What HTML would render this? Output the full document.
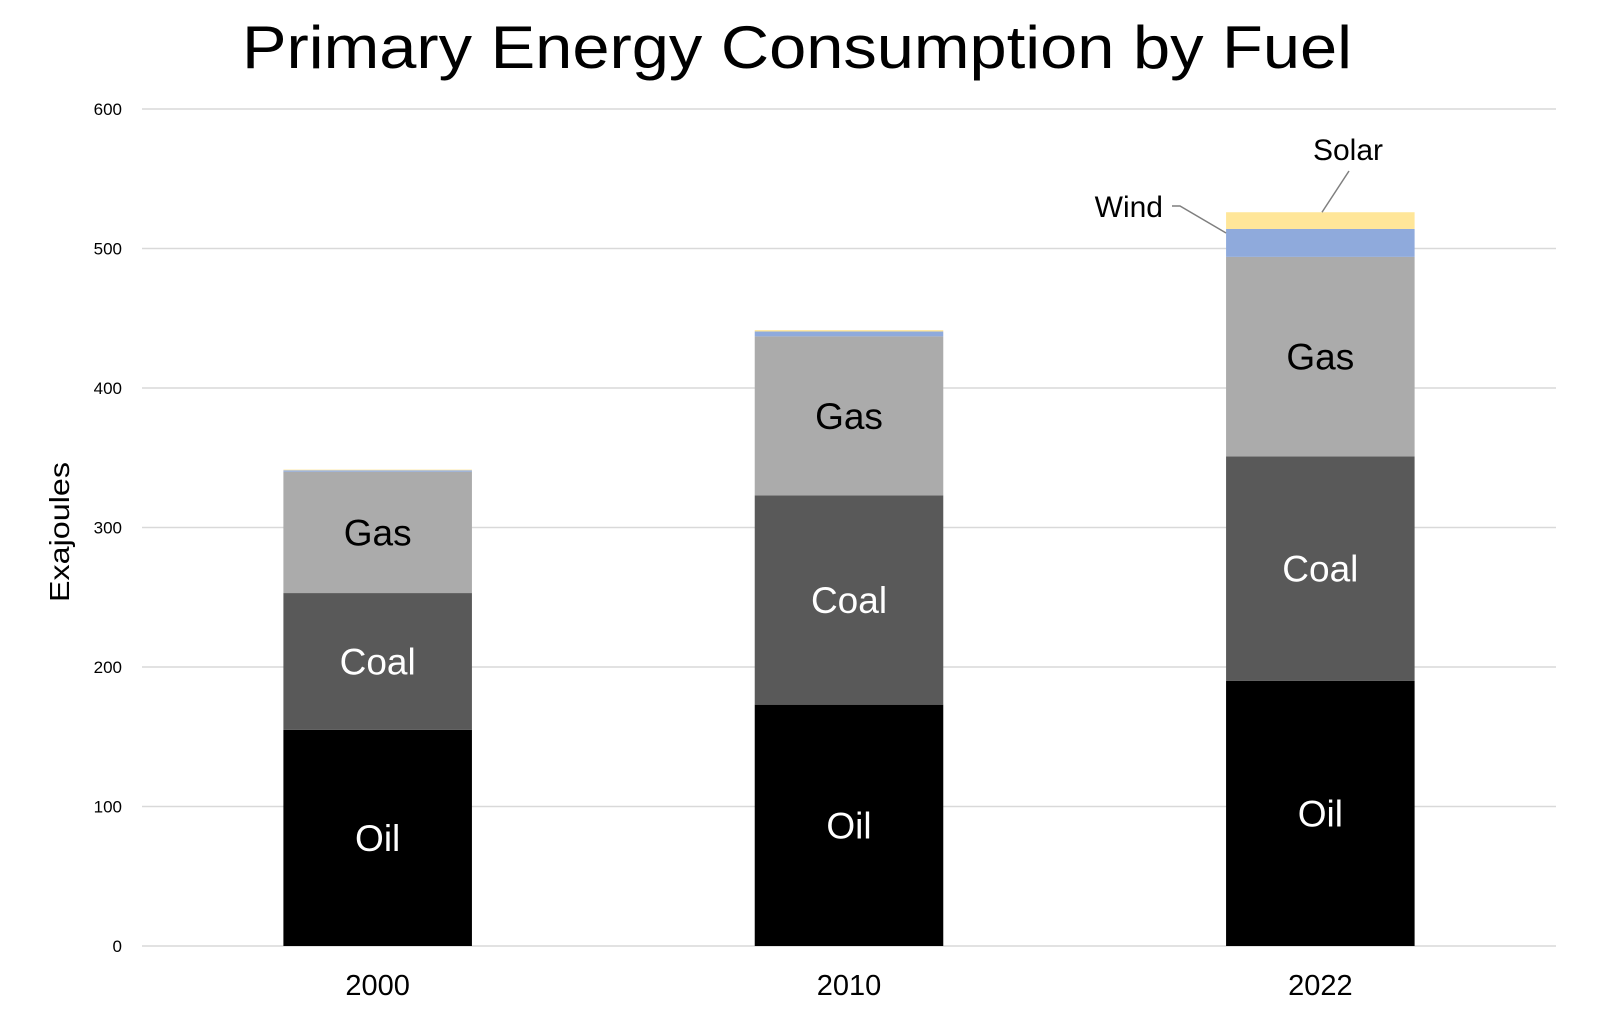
<!DOCTYPE html>
<html><head><meta charset="utf-8"><style>
html,body{margin:0;padding:0;background:#fff;}
svg{display:block;font-family:"Liberation Sans",sans-serif;}
</style></head><body>
<svg id="chart" width="1608" height="1028" viewBox="0 0 1608 1028" xmlns="http://www.w3.org/2000/svg">
<text x="797" y="68" text-anchor="middle" font-size="60" textLength="1110" lengthAdjust="spacingAndGlyphs" fill="#000">Primary Energy Consumption by Fuel</text>
<text transform="translate(69,532) rotate(-90)" text-anchor="middle" font-size="28" textLength="140" lengthAdjust="spacingAndGlyphs" fill="#000">Exajoules</text>
<g id="grid"></g><g id="bars"></g><g id="labels"></g>
</svg>
<script>
const years = ["2000","2010","2022"];
const fuels = ["Oil","Coal","Gas","Wind","Solar"];
const oil = [155,173,190];
const coal = [98,150,161];
const gas = [87,114,143];
const wind = [1,3.5,20];
const solar = [0.5,1,12];
const yTicks = [0,100,200,300,400,500,600];
const colors = {Oil:"#000000",Coal:"#595959",Gas:"#ababab",Wind:"#8faadc",Solar:"#ffe699"};
const textColors = {Oil:"#fff",Coal:"#fff",Gas:"#000"};
const series = {Oil:oil,Coal:coal,Gas:gas,Wind:wind,Solar:solar};
const X0=142,X1=1556,Y0=946,Ytop=109,YMAX=600;
const y = v => Y0 - v/YMAX*(Y0-Ytop);
const band = (X1-X0)/years.length;
const xc = i => X0 + band*(i+0.5);
const bw = band*0.4;
const NS="http://www.w3.org/2000/svg";
function mk(tag,attrs,parent){const e=document.createElementNS(NS,tag);for(const k in attrs)e.setAttribute(k,attrs[k]);parent.appendChild(e);return e;}
const grid=document.getElementById('grid'),bars=document.getElementById('bars'),labels=document.getElementById('labels');
yTicks.forEach(t=>{
  const l=mk('line',{x1:X0,x2:X1,y1:y(t),y2:y(t),stroke:'#d9d9d9','stroke-width':1.5},grid);
  
  
  const tx=mk('text',{x:122,y:y(t)+6,'text-anchor':'end','font-size':17,fill:'#000'},grid);
  tx.textContent=t;
  
  
});
years.forEach((yr,i)=>{
  let base=0;
  fuels.forEach(f=>{
    const v=series[f][i];
    const r=mk('rect',{x:xc(i)-bw/2,y:y(base+v),width:bw,height:y(base)-y(base+v),fill:colors[f]},bars);
    
    
    if(textColors[f]){
      const t=mk('text',{x:xc(i),y:(y(base)+y(base+v))/2+13,'text-anchor':'middle','font-size':37,fill:textColors[f]},labels);
      t.textContent=f;
      
      
    }
    base+=v;
  });
  const xl=mk('text',{x:xc(i),y:995,'text-anchor':'middle','font-size':29,fill:'#000'},labels);
  xl.textContent=yr;
  
  
});
const li=years.length-1;
const baseW=oil[li]+coal[li]+gas[li];
const wx=xc(li)-bw/2, wy=y(baseW+wind[li]);
const wl=mk('polyline',{points:`${1172},${206} ${1180},${206} ${wx},${wy+4}`,fill:'none',stroke:'#7f7f7f','stroke-width':1.5},labels);


const wt=mk('text',{x:1163,y:217,'text-anchor':'end','font-size':30,fill:'#000'},labels);
wt.textContent='Wind';


const sy=y(baseW+wind[li]+solar[li]);
const sl=mk('line',{x1:1349,y1:171,x2:1322,y2:sy,stroke:'#7f7f7f','stroke-width':1.5},labels);


const st=mk('text',{x:1348,y:160,'text-anchor':'middle','font-size':30,fill:'#000'},labels);
st.textContent='Solar';


</script>
</body></html>
